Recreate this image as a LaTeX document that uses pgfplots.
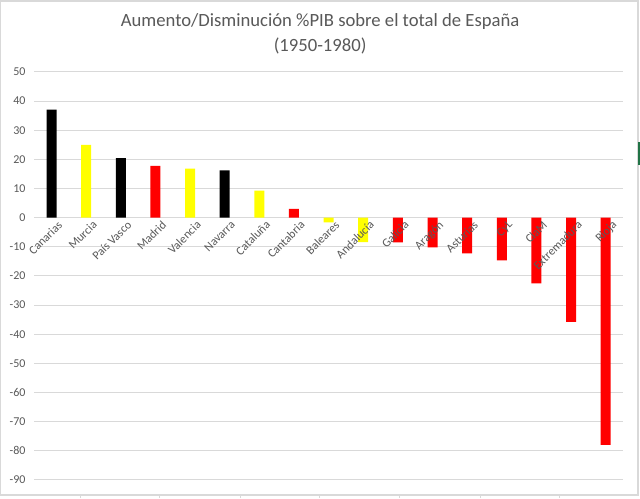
\documentclass[border=0pt]{standalone}
\usepackage{pgfplots}
\pgfplotsset{compat=1.18}
\usepackage{fontspec}
\setmainfont{Carlito}
\definecolor{txt}{HTML}{595959}
\definecolor{grd}{HTML}{D9D9D9}
\definecolor{ylw}{HTML}{FFFF00}
\definecolor{rd}{HTML}{FF0000}
\definecolor{xlgreen}{HTML}{217346}
\begin{document}
\begin{tikzpicture}
\fill[white] (0pt,0pt) rectangle (480pt,373.5pt);
\draw[grd, line width=1.1pt] (0.4pt,2.25pt) rectangle (478.5pt,372.8pt);
\foreach \xx in {60,119.25,180,239.25,299.25,360,419.25} {\draw[grd,line width=0.75pt] (\xx pt,0pt) -- (\xx pt,2.25pt);}
\draw[xlgreen, line width=1.1pt] (479.3pt,249.75pt) -- (479.3pt,267pt);
\node[txt, font=\fontsize{14}{17}\selectfont] at (240pt,357pt) {Aumento/Disminución \%PIB sobre el total de España};
\node[txt, font=\fontsize{14}{17}\selectfont] at (240pt,339pt) {(1950-1980)};
\begin{axis}[
  at={(25.5pt,13.5pt)}, anchor=south west,
  scale only axis, width=441.75pt, height=306pt,
  xmin=-0.5, xmax=16.5, ymin=-90, ymax=50,
  xtick=\empty, ytick={-90,-80,...,50},
  ymajorgrids, grid style={grd, line width=0.75pt},
  major tick length=0pt,
  axis line style={draw=none},
  yticklabel style={txt, font=\fontsize{9}{11}\selectfont, xshift=-3pt},
  /pgf/number format/assume math mode=true,
  ybar, bar width=7.5pt, bar shift=0pt,
  clip=false,
]
\addplot[fill=black, draw=none] coordinates {(0,37.1) (2,20.4) (5,16.2)};
\addplot[fill=ylw, draw=none] coordinates {(1,25.0) (4,16.8) (6,9.3) (8,-1.6) (9,-8.4)};
\addplot[fill=rd, draw=none] coordinates {(3,17.8) (7,3.0) (10,-8.5) (11,-10.2) (12,-12.3) (13,-14.7) (14,-22.6) (15,-35.8) (16,-78.0)};
\begin{scope}[every node/.style={txt, font=\fontsize{9}{11}\selectfont, rotate=45, anchor=north east, inner sep=1pt, xshift=3pt, yshift=-3pt}]
\node at (axis cs:0,0) {Canarias};
\node at (axis cs:1,0) {Murcia};
\node at (axis cs:2,0) {País Vasco};
\node at (axis cs:3,0) {Madrid};
\node at (axis cs:4,0) {Valencia};
\node at (axis cs:5,0) {Navarra};
\node at (axis cs:6,0) {Cataluña};
\node at (axis cs:7,0) {Cantabria};
\node at (axis cs:8,0) {Baleares};
\node at (axis cs:9,0) {Andalucía};
\node at (axis cs:10,0) {Galicia};
\node at (axis cs:11,0) {Aragón};
\node at (axis cs:12,0) {Asturias};
\node at (axis cs:13,0) {CyL};
\node at (axis cs:14,0) {ClaM};
\node at (axis cs:15,0) {Extremadura};
\node at (axis cs:16,0) {Rioja};
\end{scope}
\end{axis}
\end{tikzpicture}
\end{document}
